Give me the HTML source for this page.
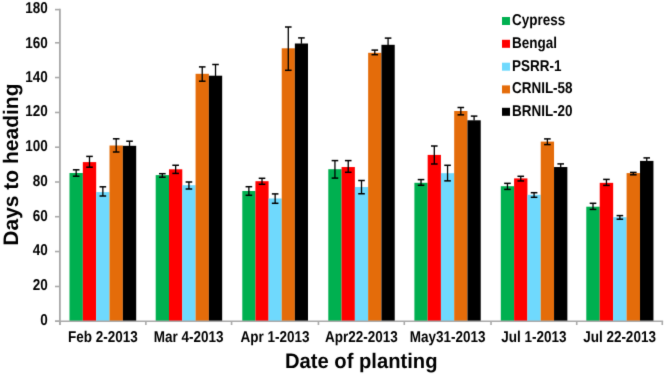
<!DOCTYPE html><html><head><meta charset="utf-8"><style>html,body{margin:0;padding:0;background:#fff;}svg{display:block;}text{text-rendering:geometricPrecision;font-family:"Liberation Sans",sans-serif;font-weight:bold;fill:#000;}.s{stroke:#fff;stroke-width:0px;}</style></head><body>
<svg width="666" height="376" viewBox="0 0 666 376">
<defs><filter id="bl" x="0" y="0" width="100%" height="100%" filterUnits="userSpaceOnUse" color-interpolation-filters="sRGB"><feConvolveMatrix order="3" kernelMatrix="0.01 0.08 0.01 0.08 0.64 0.08 0.01 0.08 0.01" edgeMode="duplicate"/></filter></defs><g filter="url(#bl)">
<rect width="666" height="376" fill="#fff"/>
<rect x="69.50" y="173.00" width="13.340" height="148.20" fill="#00b050"/>
<rect x="82.84" y="162.10" width="13.340" height="159.10" fill="#ff0000"/>
<rect x="96.18" y="192.10" width="13.340" height="129.10" fill="#6fd9fd"/>
<rect x="109.52" y="145.50" width="13.340" height="175.70" fill="#e46c0a"/>
<rect x="122.86" y="145.80" width="13.340" height="175.40" fill="#000000"/>
<rect x="155.70" y="175.10" width="13.294" height="146.10" fill="#00b050"/>
<rect x="168.99" y="169.30" width="13.294" height="151.90" fill="#ff0000"/>
<rect x="182.29" y="185.20" width="13.294" height="136.00" fill="#6fd9fd"/>
<rect x="195.58" y="73.80" width="13.294" height="247.40" fill="#e46c0a"/>
<rect x="208.88" y="75.70" width="13.294" height="245.50" fill="#000000"/>
<rect x="242.30" y="191.00" width="13.140" height="130.20" fill="#00b050"/>
<rect x="255.44" y="181.20" width="13.140" height="140.00" fill="#ff0000"/>
<rect x="268.58" y="198.50" width="13.140" height="122.70" fill="#6fd9fd"/>
<rect x="281.72" y="48.30" width="13.140" height="272.90" fill="#e46c0a"/>
<rect x="294.86" y="43.50" width="13.140" height="277.70" fill="#000000"/>
<rect x="328.30" y="169.20" width="13.284" height="152.00" fill="#00b050"/>
<rect x="341.58" y="167.04" width="13.284" height="154.16" fill="#ff0000"/>
<rect x="354.87" y="187.05" width="13.284" height="134.15" fill="#6fd9fd"/>
<rect x="368.15" y="52.80" width="13.284" height="268.40" fill="#e46c0a"/>
<rect x="381.44" y="44.80" width="13.284" height="276.40" fill="#000000"/>
<rect x="414.40" y="182.80" width="13.264" height="138.40" fill="#00b050"/>
<rect x="427.66" y="154.90" width="13.264" height="166.30" fill="#ff0000"/>
<rect x="440.93" y="173.20" width="13.264" height="148.00" fill="#6fd9fd"/>
<rect x="454.19" y="111.00" width="13.264" height="210.20" fill="#e46c0a"/>
<rect x="467.46" y="120.30" width="13.264" height="200.90" fill="#000000"/>
<rect x="500.80" y="186.20" width="13.312" height="135.00" fill="#00b050"/>
<rect x="514.11" y="178.40" width="13.312" height="142.80" fill="#ff0000"/>
<rect x="527.42" y="194.80" width="13.312" height="126.40" fill="#6fd9fd"/>
<rect x="540.74" y="141.60" width="13.312" height="179.60" fill="#e46c0a"/>
<rect x="554.05" y="167.05" width="13.312" height="154.15" fill="#000000"/>
<rect x="586.30" y="206.70" width="13.430" height="114.50" fill="#00b050"/>
<rect x="599.73" y="182.85" width="13.430" height="138.35" fill="#ff0000"/>
<rect x="613.16" y="217.20" width="13.430" height="104.00" fill="#6fd9fd"/>
<rect x="626.59" y="173.10" width="13.430" height="148.10" fill="#e46c0a"/>
<rect x="640.02" y="160.90" width="13.430" height="160.30" fill="#000000"/>
<line x1="76.17" y1="169.80" x2="76.17" y2="176.20" stroke="#000" stroke-width="1.3"/>
<line x1="72.87" y1="169.80" x2="79.47" y2="169.80" stroke="#000" stroke-width="1.5"/>
<line x1="72.87" y1="176.20" x2="79.47" y2="176.20" stroke="#000" stroke-width="1.5"/>
<line x1="89.51" y1="156.40" x2="89.51" y2="167.20" stroke="#000" stroke-width="1.3"/>
<line x1="86.21" y1="156.40" x2="92.81" y2="156.40" stroke="#000" stroke-width="1.5"/>
<line x1="86.21" y1="167.20" x2="92.81" y2="167.20" stroke="#000" stroke-width="1.5"/>
<line x1="102.85" y1="186.80" x2="102.85" y2="196.00" stroke="#000" stroke-width="1.3"/>
<line x1="99.55" y1="186.80" x2="106.15" y2="186.80" stroke="#000" stroke-width="1.5"/>
<line x1="99.55" y1="196.00" x2="106.15" y2="196.00" stroke="#000" stroke-width="1.5"/>
<line x1="116.19" y1="138.80" x2="116.19" y2="152.00" stroke="#000" stroke-width="1.3"/>
<line x1="112.89" y1="138.80" x2="119.49" y2="138.80" stroke="#000" stroke-width="1.5"/>
<line x1="112.89" y1="152.00" x2="119.49" y2="152.00" stroke="#000" stroke-width="1.5"/>
<line x1="129.53" y1="141.20" x2="129.53" y2="146.10" stroke="#000" stroke-width="1.3"/>
<line x1="126.23" y1="141.20" x2="132.83" y2="141.20" stroke="#000" stroke-width="1.5"/>
<line x1="162.35" y1="173.70" x2="162.35" y2="177.20" stroke="#000" stroke-width="1.3"/>
<line x1="159.05" y1="173.70" x2="165.65" y2="173.70" stroke="#000" stroke-width="1.5"/>
<line x1="159.05" y1="177.20" x2="165.65" y2="177.20" stroke="#000" stroke-width="1.5"/>
<line x1="175.64" y1="165.27" x2="175.64" y2="173.40" stroke="#000" stroke-width="1.3"/>
<line x1="172.34" y1="165.27" x2="178.94" y2="165.27" stroke="#000" stroke-width="1.5"/>
<line x1="172.34" y1="173.40" x2="178.94" y2="173.40" stroke="#000" stroke-width="1.5"/>
<line x1="188.93" y1="182.00" x2="188.93" y2="189.00" stroke="#000" stroke-width="1.3"/>
<line x1="185.63" y1="182.00" x2="192.23" y2="182.00" stroke="#000" stroke-width="1.5"/>
<line x1="185.63" y1="189.00" x2="192.23" y2="189.00" stroke="#000" stroke-width="1.5"/>
<line x1="202.23" y1="66.90" x2="202.23" y2="81.20" stroke="#000" stroke-width="1.3"/>
<line x1="198.93" y1="66.90" x2="205.53" y2="66.90" stroke="#000" stroke-width="1.5"/>
<line x1="198.93" y1="81.20" x2="205.53" y2="81.20" stroke="#000" stroke-width="1.5"/>
<line x1="215.52" y1="64.50" x2="215.52" y2="76.00" stroke="#000" stroke-width="1.3"/>
<line x1="212.22" y1="64.50" x2="218.82" y2="64.50" stroke="#000" stroke-width="1.5"/>
<line x1="248.87" y1="186.70" x2="248.87" y2="195.30" stroke="#000" stroke-width="1.3"/>
<line x1="245.57" y1="186.70" x2="252.17" y2="186.70" stroke="#000" stroke-width="1.5"/>
<line x1="245.57" y1="195.30" x2="252.17" y2="195.30" stroke="#000" stroke-width="1.5"/>
<line x1="262.01" y1="178.30" x2="262.01" y2="184.30" stroke="#000" stroke-width="1.3"/>
<line x1="258.71" y1="178.30" x2="265.31" y2="178.30" stroke="#000" stroke-width="1.5"/>
<line x1="258.71" y1="184.30" x2="265.31" y2="184.30" stroke="#000" stroke-width="1.5"/>
<line x1="275.15" y1="193.90" x2="275.15" y2="203.30" stroke="#000" stroke-width="1.3"/>
<line x1="271.85" y1="193.90" x2="278.45" y2="193.90" stroke="#000" stroke-width="1.5"/>
<line x1="271.85" y1="203.30" x2="278.45" y2="203.30" stroke="#000" stroke-width="1.5"/>
<line x1="288.29" y1="27.00" x2="288.29" y2="70.30" stroke="#000" stroke-width="1.3"/>
<line x1="284.99" y1="27.00" x2="291.59" y2="27.00" stroke="#000" stroke-width="1.5"/>
<line x1="284.99" y1="70.30" x2="291.59" y2="70.30" stroke="#000" stroke-width="1.5"/>
<line x1="301.43" y1="37.90" x2="301.43" y2="43.80" stroke="#000" stroke-width="1.3"/>
<line x1="298.13" y1="37.90" x2="304.73" y2="37.90" stroke="#000" stroke-width="1.5"/>
<line x1="334.94" y1="160.60" x2="334.94" y2="178.10" stroke="#000" stroke-width="1.3"/>
<line x1="331.64" y1="160.60" x2="338.24" y2="160.60" stroke="#000" stroke-width="1.5"/>
<line x1="331.64" y1="178.10" x2="338.24" y2="178.10" stroke="#000" stroke-width="1.5"/>
<line x1="348.23" y1="160.60" x2="348.23" y2="172.30" stroke="#000" stroke-width="1.3"/>
<line x1="344.93" y1="160.60" x2="351.53" y2="160.60" stroke="#000" stroke-width="1.5"/>
<line x1="344.93" y1="172.30" x2="351.53" y2="172.30" stroke="#000" stroke-width="1.5"/>
<line x1="361.51" y1="180.50" x2="361.51" y2="193.75" stroke="#000" stroke-width="1.3"/>
<line x1="358.21" y1="180.50" x2="364.81" y2="180.50" stroke="#000" stroke-width="1.5"/>
<line x1="358.21" y1="193.75" x2="364.81" y2="193.75" stroke="#000" stroke-width="1.5"/>
<line x1="374.79" y1="50.10" x2="374.79" y2="54.70" stroke="#000" stroke-width="1.3"/>
<line x1="371.49" y1="50.10" x2="378.09" y2="50.10" stroke="#000" stroke-width="1.5"/>
<line x1="371.49" y1="54.70" x2="378.09" y2="54.70" stroke="#000" stroke-width="1.5"/>
<line x1="388.08" y1="38.10" x2="388.08" y2="45.10" stroke="#000" stroke-width="1.3"/>
<line x1="384.78" y1="38.10" x2="391.38" y2="38.10" stroke="#000" stroke-width="1.5"/>
<line x1="421.03" y1="179.60" x2="421.03" y2="185.30" stroke="#000" stroke-width="1.3"/>
<line x1="417.73" y1="179.60" x2="424.33" y2="179.60" stroke="#000" stroke-width="1.5"/>
<line x1="417.73" y1="185.30" x2="424.33" y2="185.30" stroke="#000" stroke-width="1.5"/>
<line x1="434.30" y1="146.00" x2="434.30" y2="164.00" stroke="#000" stroke-width="1.3"/>
<line x1="431.00" y1="146.00" x2="437.60" y2="146.00" stroke="#000" stroke-width="1.5"/>
<line x1="431.00" y1="164.00" x2="437.60" y2="164.00" stroke="#000" stroke-width="1.5"/>
<line x1="447.56" y1="165.30" x2="447.56" y2="180.85" stroke="#000" stroke-width="1.3"/>
<line x1="444.26" y1="165.30" x2="450.86" y2="165.30" stroke="#000" stroke-width="1.5"/>
<line x1="444.26" y1="180.85" x2="450.86" y2="180.85" stroke="#000" stroke-width="1.5"/>
<line x1="460.82" y1="107.50" x2="460.82" y2="114.85" stroke="#000" stroke-width="1.3"/>
<line x1="457.52" y1="107.50" x2="464.12" y2="107.50" stroke="#000" stroke-width="1.5"/>
<line x1="457.52" y1="114.85" x2="464.12" y2="114.85" stroke="#000" stroke-width="1.5"/>
<line x1="474.09" y1="116.10" x2="474.09" y2="120.60" stroke="#000" stroke-width="1.3"/>
<line x1="470.79" y1="116.10" x2="477.39" y2="116.10" stroke="#000" stroke-width="1.5"/>
<line x1="507.46" y1="183.35" x2="507.46" y2="189.40" stroke="#000" stroke-width="1.3"/>
<line x1="504.16" y1="183.35" x2="510.76" y2="183.35" stroke="#000" stroke-width="1.5"/>
<line x1="504.16" y1="189.40" x2="510.76" y2="189.40" stroke="#000" stroke-width="1.5"/>
<line x1="520.77" y1="176.30" x2="520.77" y2="180.95" stroke="#000" stroke-width="1.3"/>
<line x1="517.47" y1="176.30" x2="524.07" y2="176.30" stroke="#000" stroke-width="1.5"/>
<line x1="517.47" y1="180.95" x2="524.07" y2="180.95" stroke="#000" stroke-width="1.5"/>
<line x1="534.08" y1="192.70" x2="534.08" y2="197.30" stroke="#000" stroke-width="1.3"/>
<line x1="530.78" y1="192.70" x2="537.38" y2="192.70" stroke="#000" stroke-width="1.5"/>
<line x1="530.78" y1="197.30" x2="537.38" y2="197.30" stroke="#000" stroke-width="1.5"/>
<line x1="547.39" y1="138.90" x2="547.39" y2="144.60" stroke="#000" stroke-width="1.3"/>
<line x1="544.09" y1="138.90" x2="550.69" y2="138.90" stroke="#000" stroke-width="1.5"/>
<line x1="544.09" y1="144.60" x2="550.69" y2="144.60" stroke="#000" stroke-width="1.5"/>
<line x1="560.70" y1="163.90" x2="560.70" y2="167.35" stroke="#000" stroke-width="1.3"/>
<line x1="557.40" y1="163.90" x2="564.00" y2="163.90" stroke="#000" stroke-width="1.5"/>
<line x1="593.01" y1="203.30" x2="593.01" y2="209.40" stroke="#000" stroke-width="1.3"/>
<line x1="589.72" y1="203.30" x2="596.31" y2="203.30" stroke="#000" stroke-width="1.5"/>
<line x1="589.72" y1="209.40" x2="596.31" y2="209.40" stroke="#000" stroke-width="1.5"/>
<line x1="606.45" y1="179.40" x2="606.45" y2="185.40" stroke="#000" stroke-width="1.3"/>
<line x1="603.15" y1="179.40" x2="609.75" y2="179.40" stroke="#000" stroke-width="1.5"/>
<line x1="603.15" y1="185.40" x2="609.75" y2="185.40" stroke="#000" stroke-width="1.5"/>
<line x1="619.88" y1="215.60" x2="619.88" y2="219.20" stroke="#000" stroke-width="1.3"/>
<line x1="616.58" y1="215.60" x2="623.17" y2="215.60" stroke="#000" stroke-width="1.5"/>
<line x1="616.58" y1="219.20" x2="623.17" y2="219.20" stroke="#000" stroke-width="1.5"/>
<line x1="633.31" y1="172.40" x2="633.31" y2="174.80" stroke="#000" stroke-width="1.3"/>
<line x1="630.01" y1="172.40" x2="636.61" y2="172.40" stroke="#000" stroke-width="1.5"/>
<line x1="630.01" y1="174.80" x2="636.61" y2="174.80" stroke="#000" stroke-width="1.5"/>
<line x1="646.74" y1="157.90" x2="646.74" y2="161.20" stroke="#000" stroke-width="1.3"/>
<line x1="643.44" y1="157.90" x2="650.03" y2="157.90" stroke="#000" stroke-width="1.5"/>
<line x1="59.9" y1="8.799999999999999" x2="59.9" y2="325" stroke="#a9a9a9" stroke-width="1.8"/>
<line x1="55" y1="321.22" x2="59.9" y2="321.22" stroke="#a9a9a9" stroke-width="1.6"/>
<line x1="55" y1="286.48" x2="59.9" y2="286.48" stroke="#a9a9a9" stroke-width="1.6"/>
<line x1="55" y1="251.54" x2="59.9" y2="251.54" stroke="#a9a9a9" stroke-width="1.6"/>
<line x1="55" y1="216.7" x2="59.9" y2="216.7" stroke="#a9a9a9" stroke-width="1.6"/>
<line x1="55" y1="182.0" x2="59.9" y2="182.0" stroke="#a9a9a9" stroke-width="1.6"/>
<line x1="55" y1="147.22" x2="59.9" y2="147.22" stroke="#a9a9a9" stroke-width="1.6"/>
<line x1="55" y1="112.48" x2="59.9" y2="112.48" stroke="#a9a9a9" stroke-width="1.6"/>
<line x1="55" y1="77.54" x2="59.9" y2="77.54" stroke="#a9a9a9" stroke-width="1.6"/>
<line x1="55" y1="42.8" x2="59.9" y2="42.8" stroke="#a9a9a9" stroke-width="1.6"/>
<line x1="55" y1="9.6" x2="59.9" y2="9.6" stroke="#a9a9a9" stroke-width="1.6"/>
<line x1="55" y1="321.2" x2="663.0999999999999" y2="321.2" stroke="#a9a9a9" stroke-width="1.6"/>
<line x1="59.9" y1="321.2" x2="59.9" y2="325" stroke="#a9a9a9" stroke-width="1.6"/>
<line x1="145.87" y1="321.2" x2="145.87" y2="325" stroke="#a9a9a9" stroke-width="1.6"/>
<line x1="231.57" y1="321.2" x2="231.57" y2="325" stroke="#a9a9a9" stroke-width="1.6"/>
<line x1="318.43" y1="321.2" x2="318.43" y2="325" stroke="#a9a9a9" stroke-width="1.6"/>
<line x1="404.3" y1="321.2" x2="404.3" y2="325" stroke="#a9a9a9" stroke-width="1.6"/>
<line x1="491.02" y1="321.2" x2="491.02" y2="325" stroke="#a9a9a9" stroke-width="1.6"/>
<line x1="576.72" y1="321.2" x2="576.72" y2="325" stroke="#a9a9a9" stroke-width="1.6"/>
<line x1="662.3" y1="321.2" x2="662.3" y2="325" stroke="#a9a9a9" stroke-width="1.6"/>
<text transform="translate(47.7,325) scale(0.86,1.0)" class="s" font-size="15.7" text-anchor="end">0</text>
<text transform="translate(47.7,290) scale(0.86,1.0)" class="s" font-size="15.7" text-anchor="end">20</text>
<text transform="translate(47.7,255) scale(0.86,1.0)" class="s" font-size="15.7" text-anchor="end">40</text>
<text transform="translate(47.7,221) scale(0.86,1.0)" class="s" font-size="15.7" text-anchor="end">60</text>
<text transform="translate(47.7,186) scale(0.86,1.0)" class="s" font-size="15.7" text-anchor="end">80</text>
<text transform="translate(47.7,151) scale(0.86,1.0)" class="s" font-size="15.7" text-anchor="end">100</text>
<text transform="translate(47.7,116) scale(0.86,1.0)" class="s" font-size="15.7" text-anchor="end">120</text>
<text transform="translate(47.7,82) scale(0.86,1.0)" class="s" font-size="15.7" text-anchor="end">140</text>
<text transform="translate(47.7,48) scale(0.86,1.0)" class="s" font-size="15.7" text-anchor="end">160</text>
<text transform="translate(47.7,13) scale(0.86,1.0)" class="s" font-size="15.7" text-anchor="end">180</text>
<text transform="translate(102.89,342) scale(0.86,1.0)" class="s" font-size="15.7" text-anchor="middle">Feb 2-2013</text>
<text transform="translate(188.72,342) scale(0.86,1.0)" class="s" font-size="15.7" text-anchor="middle">Mar 4-2013</text>
<text transform="translate(275.00,342) scale(0.86,1.0)" class="s" font-size="15.7" text-anchor="middle">Apr 1-2013</text>
<text transform="translate(361.37,342) scale(0.86,1.0)" class="s" font-size="15.7" text-anchor="middle">Apr22-2013</text>
<text transform="translate(447.66,342) scale(0.86,1.0)" class="s" font-size="15.7" text-anchor="middle">May31-2013</text>
<text transform="translate(533.87,342) scale(0.86,1.0)" class="s" font-size="15.7" text-anchor="middle">Jul 1-2013</text>
<text transform="translate(619.51,342) scale(0.86,1.0)" class="s" font-size="15.7" text-anchor="middle">Jul 22-2013</text>
<text class="s" transform="translate(361.2,368) scale(0.962,1)" font-size="21" text-anchor="middle">Date of planting</text>
<text class="s" transform="translate(18.2,164.6) rotate(-90)" font-size="21" text-anchor="middle">Days to heading</text>
<rect x="502" y="17.00" width="8" height="8" fill="#00b050"/>
<text transform="translate(511.9,25) scale(0.86,1.0)" class="s" font-size="15.7">Cypress</text>
<rect x="502" y="39.80" width="8" height="8" fill="#ff0000"/>
<text transform="translate(511.9,48) scale(0.86,1.0)" class="s" font-size="15.7">Bengal</text>
<rect x="502" y="62.70" width="8" height="8" fill="#6fd9fd"/>
<text transform="translate(511.9,71) scale(0.86,1.0)" class="s" font-size="15.7">PSRR-1</text>
<rect x="502" y="85.40" width="8" height="8" fill="#e46c0a"/>
<text transform="translate(511.9,93) scale(0.86,1.0)" class="s" font-size="15.7">CRNIL-58</text>
<rect x="502" y="107.80" width="8" height="8" fill="#000000"/>
<text transform="translate(511.9,116) scale(0.86,1.0)" class="s" font-size="15.7">BRNIL-20</text>
</g></svg></body></html>
